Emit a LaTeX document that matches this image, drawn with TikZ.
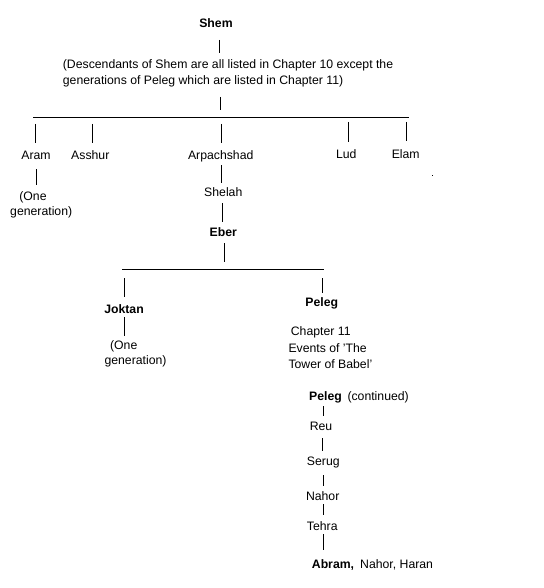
\documentclass[tikz,border=0pt]{standalone}
\usepackage{fontspec}
\setmainfont{Liberation Sans}
\begin{document}
\begin{tikzpicture}[x=1pt,y=-1pt,
  lbl/.style={inner sep=0pt,anchor=base,font=\fontsize{12.25}{14}\selectfont},
  lblw/.style={lbl,anchor=base west},
  bld/.style={font=\fontsize{12.25}{14}\selectfont\bfseries},
  conn/.style={line width=1pt,black}]
\useasboundingbox (0,0) rectangle (543,588);
% nodes
\node[lbl,bld] (shem) at (216,28) {Shem};
\node[lblw] (desc1) at (62.7,69) {(Descendants of Shem are all listed in Chapter 10 except the};
\node[lblw] (desc2) at (62.7,85) {generations of Peleg which are listed in Chapter 11)};
\coordinate (bus1L) at (33,117.3);
\coordinate (bus1R) at (409,117.3);
\node[lbl] (aram) at (36,160) {Aram};
\node[lbl] (asshur) at (90.3,160) {Asshur};
\node[lbl] (arp) at (220.7,160) {Arpachshad};
\node[lbl] (lud) at (346.3,159) {Lud};
\node[lbl] (elam) at (405.7,158) {Elam};
\node[lbl] (aramgen1) at (33,200) {(One};
\node[lbl] (aramgen2) at (41.2,215) {generation)};
\node[lbl] (shelah) at (223.3,196.7) {Shelah};
\node[lbl,bld] (eber) at (223.3,236) {Eber};
\coordinate (bus2L) at (122.3,269.3);
\coordinate (bus2R) at (323.7,269.3);
\node[lbl,bld] (joktan) at (124,313) {Joktan};
\node[lbl,bld] (peleg) at (321.7,306.5) {Peleg};
\node[lbl] (jokgen1) at (123.7,349) {(One};
\node[lbl] (jokgen2) at (135.5,364) {generation)};
\node[lblw] (ch11) at (290.7,335) {Chapter 11};
\node[lblw] (events1) at (288.3,352.7) {Events of 'The};
\node[lblw] (events2) at (288.3,368.3) {Tower of Babel'};
\node[lblw,bld] (peleg2) at (309,400) {Peleg};
\node[lblw] (cont) at (347.3,400) {(continued)};
\node[lbl] (reu) at (321,430) {Reu};
\node[lbl] (serug) at (323.3,465.5) {Serug};
\node[lbl] (nahor) at (322.7,500.7) {Nahor};
\node[lbl] (tehra) at (322.3,530.7) {Tehra};
\node[lblw,bld] (abram) at (311.7,568.3) {Abram,};
\node[lblw] (others) at (360,568.3) {Nahor, Haran};
\fill (431.5,174.5) rectangle (432.5,175.5);
% connectors
\draw[conn] ([shift={(3.3,12)}]shem.base) -- ([shift={(156.6,-16)}]desc1.base west);
\draw[conn] ([shift={(157.3,12)}]desc2.base west) -- ([shift={(157.3,25)}]desc2.base west);
\draw[conn] (bus1L) -- (bus1R);
\draw[conn] ([shift={(-0.3,-36)}]aram.base) -- ([shift={(-0.3,-17)}]aram.base);
\draw[conn] ([shift={(2,-36)}]asshur.base) -- ([shift={(2,-17)}]asshur.base);
\draw[conn] ([shift={(1,-36)}]arp.base) -- ([shift={(1,-17)}]arp.base);
\draw[conn] ([shift={(2,-37)}]lud.base) -- ([shift={(2,-17.3)}]lud.base);
\draw[conn] ([shift={(0.3,-36)}]elam.base) -- ([shift={(0.3,-17)}]elam.base);
\draw[conn] ([shift={(0,9)}]aram.base) -- ([shift={(3,-15)}]aramgen1.base);
\draw[conn] ([shift={(1,5)}]arp.base) -- ([shift={(-1.6,-13.7)}]shelah.base);
\draw[conn] ([shift={(-0.6,6.3)}]shelah.base) -- ([shift={(-0.6,-14.3)}]eber.base);
\draw[conn] ([shift={(1,7.3)}]eber.base) -- ([shift={(1,25.7)}]eber.base);
\draw[conn] (bus2L) -- (bus2R);
\draw[conn] ([shift={(0.3,-34.7)}]joktan.base) -- ([shift={(0.3,-16.3)}]joktan.base);
\draw[conn] ([shift={(0.6,-28.2)}]peleg.base) -- ([shift={(0.6,-13.2)}]peleg.base);
\draw[conn] ([shift={(0.3,4.3)}]joktan.base) -- ([shift={(0.6,-13)}]jokgen1.base);
\draw[conn] ([shift={(14.3,6)}]peleg2.base west) -- ([shift={(2.3,-14)}]reu.base);
\draw[conn] ([shift={(1.3,8.3)}]reu.base) -- ([shift={(-1,-14.8)}]serug.base);
\draw[conn] ([shift={(0,9.5)}]serug.base) -- ([shift={(0.6,-14.7)}]nahor.base);
\draw[conn] ([shift={(0.6,3.3)}]nahor.base) -- ([shift={(1,-15.7)}]tehra.base);
\draw[conn] ([shift={(1,3.3)}]tehra.base) -- ([shift={(11.6,-18.3)}]abram.base west);
\end{tikzpicture}
\end{document}
